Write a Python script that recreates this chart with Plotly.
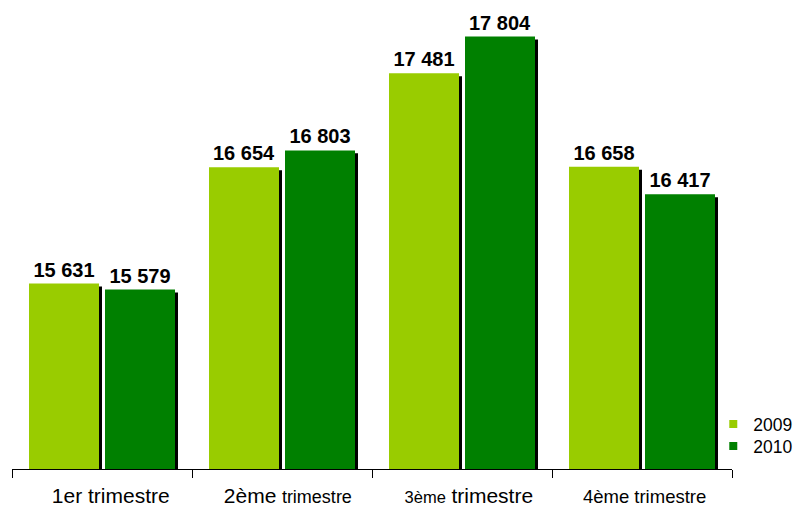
import plotly.graph_objects as go

categories = ["1er trimestre", "2ème trimestre", "3ème trimestre", "4ème trimestre"]
tick_labels = [
    "<span style='font-size:21px'>&nbsp;&nbsp;&nbsp;1er trimestre</span>",
    "<span style='font-size:21px'>&nbsp;&nbsp;2ème</span> <span style='font-size:18px'>trimestre</span>",
    "<span style='font-size:16.5px'>&nbsp;&nbsp;&nbsp;3ème</span> <span style='font-size:21px'>trimestre</span>",
    "<span style='font-size:18.5px'>&nbsp;4ème trimestre</span>",
]
years = ["2009", "2010"]
values_2009 = [15631, 16654, 17481, 16658]
values_2010 = [15579, 16803, 17804, 16417]
colors = {"2009": "#99CC00", "2010": "#008000"}

Y_MIN = 14000
Y_MAX = 18038
SHADOW_DY = 26      # data units (~3 px)
BAR_W = 70 / 180
OFFSETS = {"2009": -73 / 180, "2010": 3 / 180}
SHADOW_DX = 3 / 180

def fmt(v):
    return f"{v:,}".replace(",", " ")

fig = go.Figure()
series = {"2009": values_2009, "2010": values_2010}
for yr in years:
    vals = series[yr]
    fig.add_trace(go.Bar(
        x=categories, y=[v - SHADOW_DY - Y_MIN for v in vals], base=Y_MIN,
        width=BAR_W, offset=OFFSETS[yr] + SHADOW_DX,
        marker=dict(color="black", line=dict(width=0)),
        showlegend=False, hoverinfo="skip",
    ))
for yr in years:
    vals = series[yr]
    fig.add_trace(go.Bar(
        x=categories, y=[v - Y_MIN for v in vals], base=Y_MIN,
        width=BAR_W, offset=OFFSETS[yr],
        marker=dict(color=colors[yr], line=dict(width=0)),
        text=[f"<b>{fmt(v)}</b>" for v in vals],
        textposition="outside", cliponaxis=False,
        textfont=dict(family="Liberation Sans, Arial", size=20, color="black"),
        showlegend=False, name=yr,
    ))
legend_ids = {"2009": "legend", "2010": "legend2"}
for yr in years:
    fig.add_trace(go.Scatter(
        x=[None], y=[None], mode="markers", name=yr, legend=legend_ids[yr],
        marker=dict(symbol="square", size=8, color=colors[yr]),
    ))

leg_common = dict(x=0.974, xanchor="left", yanchor="middle",
                  font=dict(size=17.5), itemwidth=30,
                  bgcolor="rgba(0,0,0,0)")
fig.update_layout(
    barmode="overlay",
    width=793, height=499,
    margin=dict(l=4, r=69, t=2, b=38, autoexpand=False),
    paper_bgcolor="white", plot_bgcolor="white",
    font=dict(family="Liberation Sans, Arial", color="black"),
    showlegend=True,
    legend=dict(y=0.098, **leg_common),
    legend2=dict(y=0.050, **leg_common),
)
fig.update_xaxes(
    type="category", categoryorder="array", categoryarray=categories,
    tickvals=categories, ticktext=tick_labels,
    range=[-0.5, 3.5], showline=True, linecolor="black", linewidth=1,
    ticks="outside", tickson="boundaries", ticklen=8, tickcolor="black",
    ticklabelstandoff=9, showgrid=False, zeroline=False, automargin=False,
    tickfont=dict(size=20, color="black"),
)
fig.update_yaxes(range=[Y_MIN, Y_MAX], visible=False, showgrid=False, automargin=False)

fig.write_html("out.html")
